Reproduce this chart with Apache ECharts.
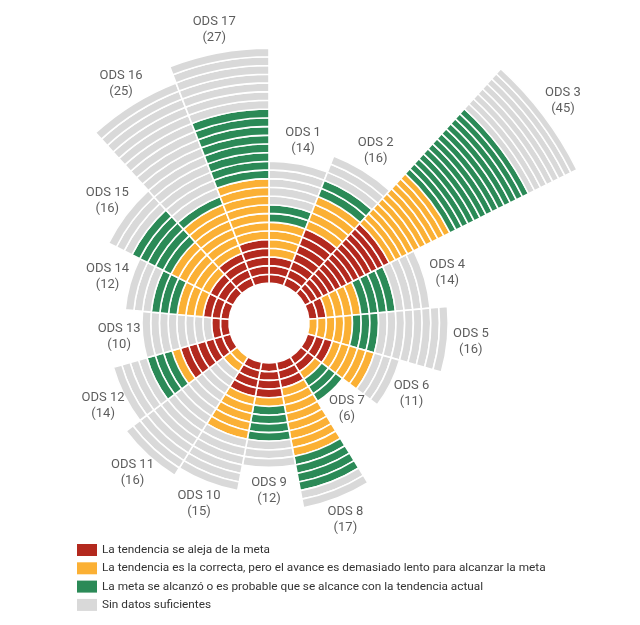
<!DOCTYPE html>
<html><head><meta charset="utf-8">
<script src="https://cdn.jsdelivr.net/npm/echarts@6/dist/echarts.min.js"></script>
<style>html,body{margin:0;padding:0;background:#fff}#c{width:640px;height:625px}</style>
</head><body><div id="c"></div>
<script>
// ---- data ----
const categories = ['ODS 1','ODS 2','ODS 3','ODS 4','ODS 5','ODS 6','ODS 7','ODS 8','ODS 9','ODS 10','ODS 11','ODS 12','ODS 13','ODS 14','ODS 15','ODS 16','ODS 17'];
const totals = [14,16,45,14,16,11,6,17,12,15,16,14,10,12,16,25,27];
const red    = [3, 7,14,2,0,3,2,3,4,4,0,6,2,3,3,4,5];
const orange = [4, 4,10,4,5,5,1,8,1,5,2,1,0,3,5,6,7];
const green  = [2, 2,13,4,3,0,3,4,4,0,0,3,0,3,5,1,8];
const gray   = [5, 3, 8,4,8,3,0,2,3,6,14,4,8,3,3,14,7];
const statusNames = [
  'La tendencia se aleja de la meta',
  'La tendencia es la correcta, pero el avance es demasiado lento para alcanzar la meta',
  'La meta se alcanzó o es probable que se alcance con la tendencia actual',
  'Sin datos suficientes'
];
// ODS 3 is drawn on its own, tighter radial scale (as in the original graphic)
const compressed = ['ODS 3'];

// ---- styles ----
const colors = ['#B3291E','#FBB034','#2B8A57','#D9D9D9'];
const FONT = "Roboto, sans-serif";
const center = [269, 323];
const ring0 = 8.7, ring1 = 304 / 45;   // px per indicator ring
const max0 = 30, max1 = 50;

const counts = [red, orange, green, gray];
function colorAt(i, k) {
  let acc = 0;
  for (let s = 0; s < 4; s++) {
    acc += counts[s][i];
    if (k < acc) return colors[s];
  }
  return colors[3];
}
function polarOf(i) { return compressed.includes(categories[i]) ? 1 : 0; }

const series = [];
[0, 1].forEach(p => {
  const idx = categories.map((c, i) => i).filter(i => polarOf(i) === p);
  const maxLayers = Math.max(...idx.map(i => totals[i]));
  for (let k = 0; k < maxLayers; k++) {
    series.push({
      type: 'bar', coordinateSystem: 'polar', polarIndex: p,
      stack: 'rings' + p, barCategoryGap: '0%', silent: true,
      itemStyle: { borderColor: '#fff', borderWidth: 1.6 },
      data: categories.map((c, i) => (polarOf(i) === p && k < totals[i])
        ? { value: 1, itemStyle: { color: colorAt(i, k) } } : '-')
    });
  }
  series.push({
    type: 'scatter', coordinateSystem: 'polar', polarIndex: p, symbolSize: 0, silent: true, clip: false,
    data: idx.map(i => ({ value: [totals[i] + (p === 0 ? 2.7 : 3.6), i], name: categories[i] + '\n(' + totals[i] + ')' })),
    label: { show: true, position: 'inside', formatter: '{b}', color: '#333', fontSize: 13, lineHeight: 16, fontFamily: FONT, align: 'center' }
  });
});
// legend entries (same stack, so they take no extra bar slot)
statusNames.forEach((n, s) => series.push({
  name: n, type: 'bar', coordinateSystem: 'polar', polarIndex: 0, stack: 'rings0', data: [],
  barCategoryGap: '0%', itemStyle: { color: colors[s] }
}));

const hiddenAxis = { axisLine: {show:false}, axisTick: {show:false}, axisLabel: {show:false}, splitLine: {show:false}, splitArea:{show:false} };
const option = {
  animation: false,
  backgroundColor: '#fff',
  polar: [
    { center: center, radius: [40, 40 + max0 * ring0] },
    { center: center, radius: [40, 40 + max1 * ring1] }
  ],
  angleAxis: [
    Object.assign({ type: 'category', data: categories, polarIndex: 0, startAngle: 90, clockwise: true }, hiddenAxis),
    Object.assign({ type: 'category', data: categories, polarIndex: 1, startAngle: 90, clockwise: true }, hiddenAxis)
  ],
  radiusAxis: [
    Object.assign({ type: 'value', min: 0, max: max0, polarIndex: 0 }, hiddenAxis),
    Object.assign({ type: 'value', min: 0, max: max1, polarIndex: 1 }, hiddenAxis)
  ],
  legend: {
    data: statusNames, orient: 'vertical', left: 77, top: 544,
    itemWidth: 20, itemHeight: 12, itemGap: 6.3, padding: 0, icon: 'rect',
    selectedMode: false,
    textStyle: { fontSize: 11.8, color: '#333', fontFamily: FONT }
  },
  series: series
};
const chart = echarts.init(document.getElementById('c'), null, { renderer: 'canvas' });
chart.setOption(option);
</script>
</body></html>
